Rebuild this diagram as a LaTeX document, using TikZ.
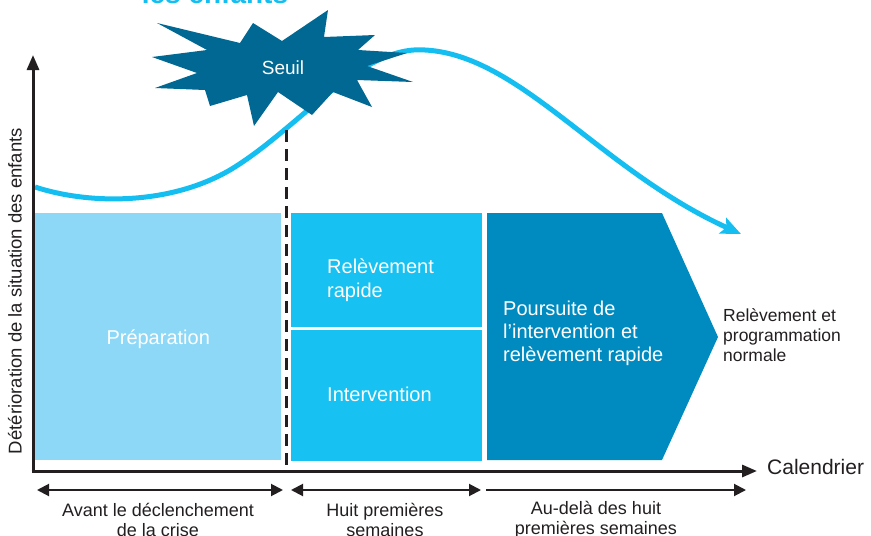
\documentclass[tikz,border=0pt]{standalone}
\usepackage{fontspec}
\setmainfont{Liberation Sans}
\usetikzlibrary{arrows.meta}
\definecolor{prepblue}{HTML}{8ED8F7}
\definecolor{midblue}{HTML}{17C1F1}
\definecolor{darkblue}{HTML}{008BC0}
\definecolor{starblue}{HTML}{006892}
\definecolor{curveblue}{HTML}{15BEF0}
\definecolor{inkgray}{HTML}{231F20}
\tikzset{
  box/.style={rectangle, inner sep=0, anchor=north west},
  boxtext/.style={text=white, font=\fontsize{20}{24}\selectfont, align=left, anchor=west, inner sep=0},
  phase/.style={text=inkgray, font=\fontsize{18}{20}\selectfont, align=center, inner sep=0},
  span/.style={line width=2pt, inkgray},
}
\begin{document}
\begin{tikzpicture}[x=1pt,y=-1pt]
\useasboundingbox (0,0) rectangle (871,536);
% title, cut at the top
\node[anchor=base, text=curveblue, font=\fontsize{28}{30}\selectfont\bfseries, inner sep=0] (title) at (215,3) {les enfants};
% phases
\node[box, fill=prepblue, minimum width=246, minimum height=247] (prep) at (35,213){};
\node[box, fill=midblue, minimum width=191, minimum height=114] (rel) at (291,213){};
\node[box, fill=midblue, minimum width=191, minimum height=131] (inter) at (291,330){};
\fill[darkblue] (487,213) -- (662,213) -- (718,337) -- (662,460) -- (487,460) -- cycle;
\node[text=white, font=\fontsize{20}{24}\selectfont, inner sep=0] (preptxt) at ([yshift=-3pt]prep.center){Préparation};
\node[boxtext] (reltxt) at (327,280){Relèvement\\rapide};
\node[boxtext] (intertxt) at (327,394){Intervention};
\node[boxtext, font=\fontsize{20}{23}\selectfont] (pours) at (503,333){Poursuite de\\l’intervention et\\relèvement rapide};
\node[anchor=west, align=left, inner sep=0, text=inkgray, font=\fontsize{17.5}{20}\selectfont] (norm) at (723,335){Relèvement et\\programmation\\normale};
% curve
\draw[curveblue, line width=5pt, -{Stealth[length=20pt,width=17pt,inset=4pt]}]
  (35,187) .. controls (90,205) and (170,205) .. (230,170)
  .. controls (300,128) and (360,45) .. (425,50)
  .. controls (520,55) and (600,170) .. (741,234);
% threshold
\draw[inkgray, line width=3pt, dash pattern=on 12pt off 7pt] (286,130) -- (286,473);
\fill[starblue] (157,23) -- (240,43) -- (253,23) -- (282,41) -- (328,10) -- (324,37)
  -- (375,35) -- (358,50) -- (407,53) -- (367,66) -- (413,82) -- (357,80)
  -- (372,107) -- (333,92) -- (312,115) -- (278,92) -- (254,126) -- (247,95)
  -- (210,106) -- (205,90) -- (155,88) -- (197,73) -- (152,57) -- (207,50) -- cycle;
\node[text=white, font=\fontsize{19}{22}\selectfont, inner sep=0] (seuil) at (283,68){Seuil};
% axes
\coordinate (o) at (33,471);
\coordinate (ytop) at (33,55);
\coordinate (xend) at (757,471);
\draw[inkgray, line width=3pt, -{Triangle[length=15pt,width=12pt]}] (o) -- (ytop);
\draw[inkgray, line width=3pt, -{Triangle[length=15pt,width=12pt]}] ([xshift=-1.5pt]o) -- (xend);
\node[anchor=west, text=inkgray, font=\fontsize{21}{24}\selectfont, inner sep=0] (cal) at (767,467){Calendrier};
\node[rotate=90, text=inkgray, font=\fontsize{18.5}{20}\selectfont, inner sep=0] (ylab) at (15,291){Détérioration de la situation des enfants};
% spans
\coordinate (s0) at (37,490);
\coordinate (s1) at (283,490);
\coordinate (s2) at (291,490);
\coordinate (s3) at (481,490);
\coordinate (s4) at (486,490);
\coordinate (s5) at (746,490);
\draw[span, {Triangle[length=12pt,width=12pt]}-{Triangle[length=12pt,width=12pt]}] (s0) -- (s1);
\draw[span, {Triangle[length=12pt,width=12pt]}-{Triangle[length=12pt,width=12pt]}] (s2) -- (s3);
\draw[span, -{Triangle[length=12pt,width=12pt]}] (s4) -- (s5);
\node[phase] (avant) at (158,520){Avant le déclenchement\\de la crise};
\node[phase] (huit) at (385,520){Huit premières\\semaines};
\node[phase] (audela) at (596,520){Au-delà des huit\\premières semaines};
\end{tikzpicture}
\end{document}
